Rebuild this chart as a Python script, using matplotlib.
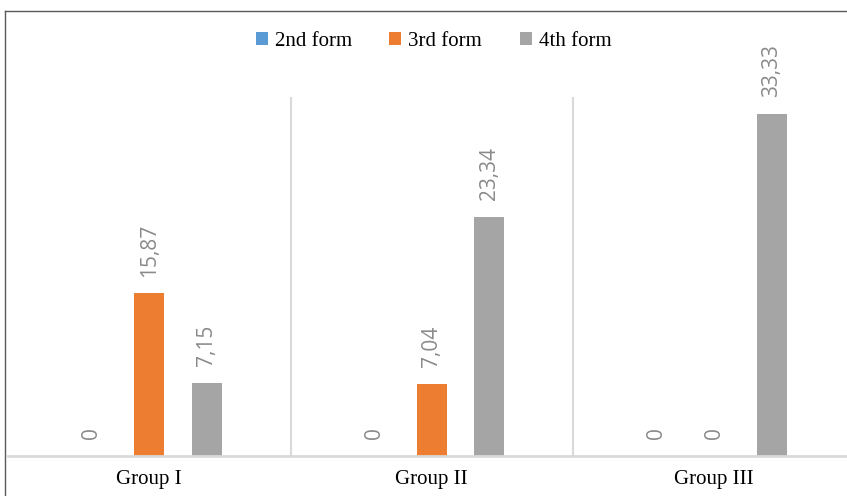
import numpy as np
import matplotlib.pyplot as plt
from matplotlib.lines import Line2D

# Data
groups = ['Group I', 'Group II', 'Group III']
series_names = ['2nd form', '3rd form', '4th form']
form2 = [0, 0, 0]
form3 = [15.87, 7.04, 0]
form4 = [7.15, 23.34, 33.33]
colors = ['#5B9BD5', '#ED7D31', '#A5A5A5']

fig = plt.figure(figsize=(8.47, 4.96), dpi=100)
ax = fig.add_axes([8 / 847, 40 / 496, 847.5 / 847, 359 / 496])

x = np.arange(len(groups))
offsets = [-0.2035, 0.0, 0.2035]
bar_w = 0.106

for vals, name, col, off in zip([form2, form3, form4], series_names, colors, offsets):
    bars = ax.bar(x + off, vals, width=bar_w, color=col, label=name, zorder=3)
    for b, v in zip(bars, vals):
        lbl = f'{v:.2f}'.replace('.', ',') if v != 0 else '0'
        ax.annotate(lbl, (b.get_x() + b.get_width() / 2, v), xytext=(0, 12),
                    textcoords='offset points', rotation=90, ha='center', va='bottom',
                    fontsize=15, color='#8a8a8a', family=['Open Sans', 'DejaVu Sans'])

ax.set_xlim(-0.5, 2.5)
ax.set_ylim(0, 35)
ax.set_yticks([])
ax.set_xticks(x, groups, fontsize=15, family='Liberation Serif')
ax.tick_params(axis='x', length=0, pad=10)
for s in ax.spines.values():
    s.set_visible(False)

# vertical separators between groups
for xb in [0.5, 1.5]:
    ax.axvline(xb, color='#d9d9d9', lw=1.5, zorder=1)
ax.axhline(0, color='#d9d9d9', lw=2, zorder=4, clip_on=False)

leg = fig.legend(loc='center', bbox_to_anchor=(433.5 / 847, 1 - 41 / 496), ncol=3,
                 frameon=False, prop={'family': 'Liberation Serif', 'size': 15},
                 handlelength=0.58, handleheight=0.58, handletextpad=0.34,
                 columnspacing=1.8)

# outer border (left and top, as in the cropped screenshot)
fig.add_artist(Line2D([5 / 847, 5 / 847], [0, 1 - 11 / 496], transform=fig.transFigure,
                      color='#595959', lw=1))
fig.add_artist(Line2D([5 / 847, 1], [1 - 11 / 496, 1 - 11 / 496], transform=fig.transFigure,
                      color='#595959', lw=1))

fig.savefig('out.png', dpi=100)
